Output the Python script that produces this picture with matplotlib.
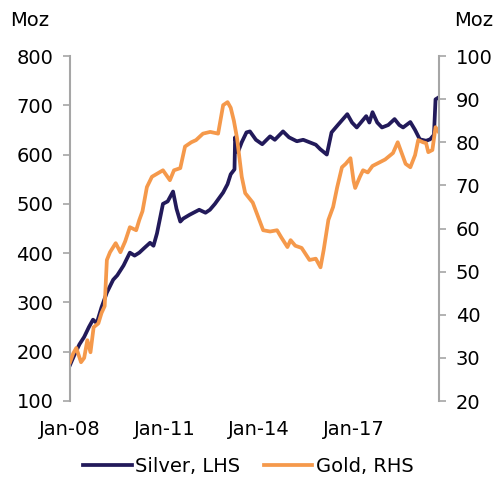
import matplotlib
matplotlib.use("Agg")
import matplotlib.pyplot as plt

# silver ETF holdings (Moz, LHS) and gold (Moz, RHS), decimal years
silver_t = [2008.00, 2008.15, 2008.30, 2008.45, 2008.60, 2008.73, 2008.85, 2009.00, 2009.17,
            2009.37, 2009.50, 2009.70, 2009.90, 2010.05, 2010.20, 2010.35, 2010.54, 2010.65,
            2010.76, 2010.95, 2011.10, 2011.27, 2011.38, 2011.50, 2011.59, 2011.80, 2012.10,
            2012.30, 2012.44, 2012.60, 2012.86, 2013.00, 2013.10, 2013.22, 2013.24, 2013.33,
            2013.45, 2013.60, 2013.71, 2013.90, 2014.10, 2014.35, 2014.50, 2014.76, 2014.95,
            2015.20, 2015.40, 2015.60, 2015.80, 2015.94, 2016.15, 2016.30, 2016.50, 2016.80,
            2016.95, 2017.10, 2017.40, 2017.50, 2017.60, 2017.75, 2017.90, 2018.10, 2018.30,
            2018.45, 2018.57, 2018.80, 2018.95, 2019.10, 2019.30, 2019.43, 2019.55, 2019.60,
            2019.70]
silver = [173, 195, 215, 230, 250, 265, 258, 290, 320,
          346, 355, 375, 401, 395, 401, 410, 421, 415,
          440, 500, 505, 525, 490, 464, 470, 478, 488,
          482, 488, 500, 523, 540, 560, 570, 635, 605,
          625, 645, 647, 630, 621, 637, 630, 647, 635,
          627, 630, 625, 620, 611, 600, 645, 660, 682,
          665, 655, 678, 665, 686, 665, 655, 660, 672,
          660, 655, 666, 650, 631, 628, 631, 640, 712,
          716]

gold_t = [2008.00, 2008.10, 2008.20, 2008.35, 2008.45, 2008.55, 2008.65, 2008.75, 2008.90,
          2009.00, 2009.10, 2009.17, 2009.27, 2009.45, 2009.60, 2009.75, 2009.90, 2010.10,
          2010.20, 2010.30, 2010.44, 2010.60, 2010.95, 2011.17, 2011.30, 2011.50, 2011.65,
          2011.85, 2012.00, 2012.22, 2012.45, 2012.70, 2012.86, 2013.00, 2013.10, 2013.20,
          2013.30, 2013.45, 2013.56, 2013.80, 2013.97, 2014.13, 2014.35, 2014.57, 2014.70,
          2014.90, 2015.00, 2015.15, 2015.35, 2015.60, 2015.80, 2015.95, 2016.05, 2016.20,
          2016.35, 2016.48, 2016.63, 2016.75, 2016.90, 2017.00, 2017.05, 2017.20, 2017.30,
          2017.45, 2017.60, 2017.84, 2018.00, 2018.25, 2018.40, 2018.55, 2018.65, 2018.80,
          2018.95, 2019.05, 2019.20, 2019.30, 2019.37, 2019.50, 2019.60, 2019.70]
gold = [29.0, 31.0, 32.3, 29.0, 30.0, 34.1, 31.3, 37.1, 38.0,
        40.4, 42.0, 52.7, 54.5, 56.6, 54.5, 57.0, 60.3, 59.6,
        62.0, 64.0, 69.6, 72.0, 73.5, 71.2, 73.5, 74.0, 79.0,
        80.0, 80.5, 82.0, 82.4, 82.0, 88.6, 89.3, 88.0, 85.0,
        81.0, 72.0, 68.2, 66.0, 62.7, 59.6, 59.3, 59.6, 58.0,
        55.7, 57.3, 56.0, 55.5, 52.7, 53.0, 51.0, 55.0, 62.0,
        65.0, 69.6, 74.2, 75.0, 76.3, 71.0, 69.4, 72.0, 73.5,
        73.0, 74.5, 75.4, 76.0, 77.5, 80.0, 77.0, 75.0, 74.2,
        77.0, 80.5, 80.0, 79.8, 77.7, 78.2, 83.5, 82.4]

xticks = [2008, 2011, 2014, 2017]
xlabels = ["Jan-08", "Jan-11", "Jan-14", "Jan-17"]

navy = "#221a5a"
orange = "#f5994b"
grey = "#a6a6a6"

plt.rcParams['font.family'] = ['DejaVu Sans']
fs = 14

fig = plt.figure(figsize=(4.97, 4.78), dpi=100)
ax = fig.add_axes([70/497, 1 - 401/478, 369/497, 345/478])
ax2 = ax.twinx()

l1, = ax.plot(silver_t, silver, color=navy, lw=2.7, label="Silver, LHS")
l2, = ax2.plot(gold_t, gold, color=orange, lw=2.7, label="Gold, RHS")

ax.set_xlim(2008, 2019.71)
ax.set_ylim(100, 800)
ax2.set_ylim(20, 100)
ax.set_yticks(range(100, 801, 100))
ax2.set_yticks(range(20, 101, 10))
ax.set_xticks(xticks)
ax.set_xticklabels(xlabels)

for a in (ax, ax2):
    for s in a.spines.values():
        s.set_visible(False)
    a.tick_params(axis='y', direction='out', length=5, width=1.2, color=grey, pad=7, labelsize=fs)
ax.spines['left'].set_visible(True)
ax.spines['left'].set_color(grey)
ax.spines['left'].set_linewidth(1.5)
ax2.spines['right'].set_visible(True)
ax2.spines['right'].set_color(grey)
ax2.spines['right'].set_linewidth(1.5)
ax.tick_params(axis='x', length=0, pad=14, labelsize=fs)

fig.text(10/497, 1 - 20/478, "Moz", fontsize=fs, va='center', ha='left')
fig.text(493/497, 1 - 20/478, "Moz", fontsize=fs, va='center', ha='right')

fig.legend(handles=[l1, l2], loc='center', bbox_to_anchor=(0.5, 1 - 466/478),
           ncol=2, frameon=False, fontsize=fs, handlelength=2.5,
           handletextpad=0.2, columnspacing=1.2)

fig.savefig("out.png", dpi=100)
